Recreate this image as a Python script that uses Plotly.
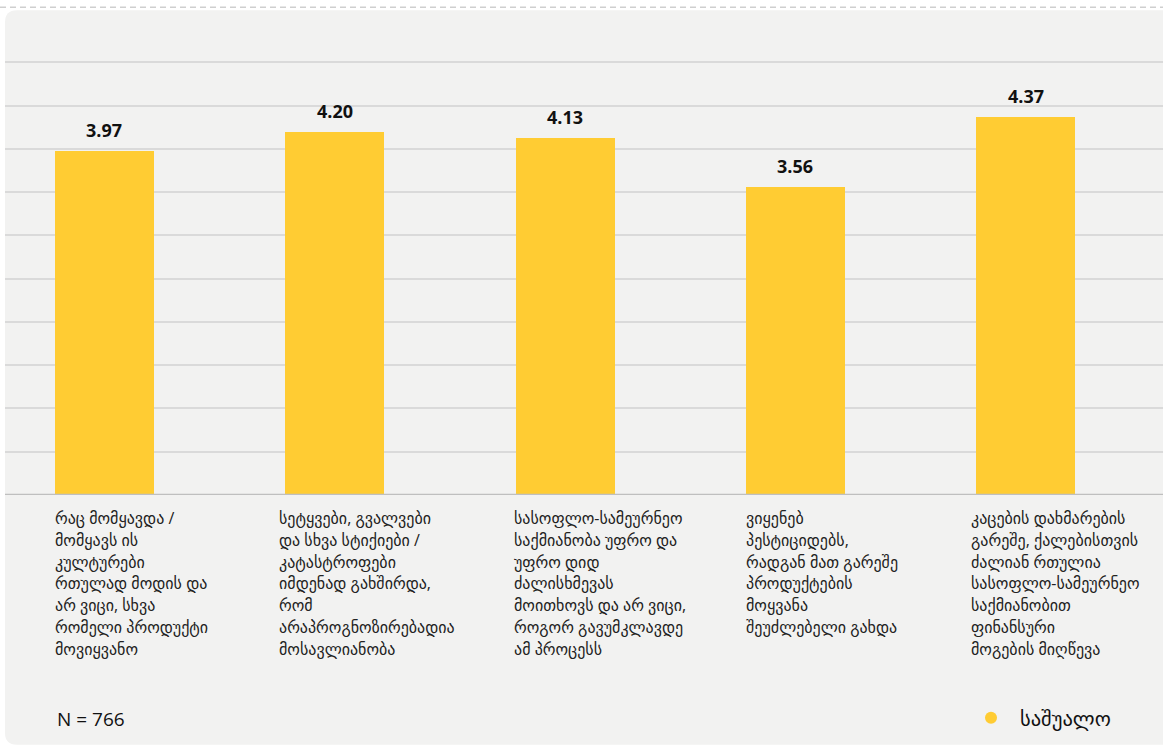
import plotly.graph_objects as go

categories = [
    ["რაც მომყავდა /", "მომყავს ის", "კულტურები", "რთულად მოდის და", "არ ვიცი, სხვა",
     "რომელი პროდუქტი", "მოვიყვანო"],
    ["სეტყვები, გვალვები", "და სხვა სტიქიები /", "კატასტროფები", "იმდენად გახშირდა,", "რომ",
     "არაპროგნოზირებადია", "მოსავლიანობა"],
    ["სასოფლო-სამეურნეო", "საქმიანობა უფრო და", "უფრო დიდ", "ძალისხმევას",
     "მოითხოვს და არ ვიცი,", "როგორ გავუმკლავდე", "ამ პროცესს"],
    ["ვიყენებ", "პესტიციდებს,", "რადგან მათ გარეშე", "პროდუქტების", "მოყვანა",
     "შეუძლებელი გახდა"],
    ["კაცების დახმარების", "გარეშე, ქალებისთვის", "ძალიან რთულია", "სასოფლო-სამეურნეო",
     "საქმიანობით", "ფინანსური", "მოგების მიღწევა"],
]
values = [3.97, 4.20, 4.13, 3.56, 4.37]
series_name = "საშუალო"
n_label = "N = 766"
y_ticks = [0, 0.5, 1, 1.5, 2, 2.5, 3, 3.5, 4, 4.5, 5]

BAR = "#FFCC33"
FONT = "Open Sans, DejaVu Sans, sans-serif"
W, H = 1163, 747
L, R, T, B = 5, 0, 57.67, 252
PW = W - L - R
PH = H - T - B

xs = list(range(len(values)))
bar_w = 0.43
label_xshift = [0, -6, -2, 0, -5]
LINE_H = 21.8

fig = go.Figure()
fig.add_trace(go.Bar(x=xs, y=values, width=bar_w, marker=dict(color=BAR, line=dict(width=0)),
                     showlegend=False, hoverinfo="skip"))
fig.add_trace(go.Scatter(x=[None], y=[None], mode="markers", name=series_name,
                         marker=dict(color=BAR, size=14, symbol="circle")))

def px2px(px):
    return (px - L) / PW

def py2py(py):
    return (H - B - py) / PH

annotations = []
for i, v in enumerate(values):
    annotations.append(dict(x=i, y=v, xref="x", yref="y", text=f"<b>{v:.2f}</b>", showarrow=False,
                            yanchor="bottom", yshift=7, font=dict(family=FONT, size=18, color="#111")))
    for k, line in enumerate(categories[i]):
        annotations.append(dict(x=i - bar_w / 2, y=py2py(518 + k * LINE_H), xref="x", yref="paper",
                                text=line, showarrow=False, xanchor="left", yanchor="middle",
                                xshift=label_xshift[i] - 2, align="left",
                                font=dict(family=FONT, size=16, color="#222")))
annotations.append(dict(x=px2px(55), y=py2py(719), xref="paper", yref="paper", text=n_label,
                        showarrow=False, xanchor="left", yanchor="middle",
                        font=dict(family=FONT, size=19, color="#111")))

# rounded panel background
x0, x1 = px2px(5), px2px(1175)
y0, y1 = py2py(745), py2py(10)
rx = 12 / PW
ry = 12 / PH
path = (f"M {x0+rx},{y1} L {x1},{y1} L {x1},{y0} L {x0+rx},{y0} "
        f"Q {x0},{y0} {x0},{y0+ry} L {x0},{y1-ry} Q {x0},{y1} {x0+rx},{y1} Z")
shapes = [
    dict(type="path", path=path, xref="paper", yref="paper", fillcolor="#F2F2F1",
         line=dict(width=0), layer="below"),
    dict(type="line", xref="paper", yref="paper", x0=px2px(0), x1=px2px(1163), y0=py2py(7), y1=py2py(7),
         line=dict(color="#CFCFCF", width=1.5, dash="6px,4px")),
    dict(type="line", xref="paper", yref="y", x0=0, x1=1, y0=0, y1=0,
         line=dict(color="#BFBFBF", width=2.5)),
]

fig.update_layout(
    width=W, height=H,
    margin=dict(l=L, r=R, t=T, b=B),
    paper_bgcolor="white",
    plot_bgcolor="rgba(0,0,0,0)",
    font=dict(family=FONT, color="#222"),
    bargap=0,
    xaxis=dict(range=[-0.432, 4.597], showticklabels=False, showgrid=False, zeroline=False,
               ticks="", fixedrange=True),
    yaxis=dict(range=[0, 5.05], tickvals=y_ticks, showticklabels=False, showgrid=True,
               gridcolor="#DADADA", gridwidth=1.5, zeroline=False, ticks="", fixedrange=True),
    showlegend=True,
    legend=dict(x=px2px(962), y=py2py(718), xanchor="left", yanchor="middle",
                bgcolor="rgba(0,0,0,0)", font=dict(family=FONT, size=20.5, color="#111"),
                itemsizing="constant", itemwidth=48),
    annotations=annotations,
    shapes=shapes,
)

fig.write_html("out.html", config={"displayModeBar": False},
               post_script="document.body.style.margin='0';document.body.style.overflow='hidden';")
